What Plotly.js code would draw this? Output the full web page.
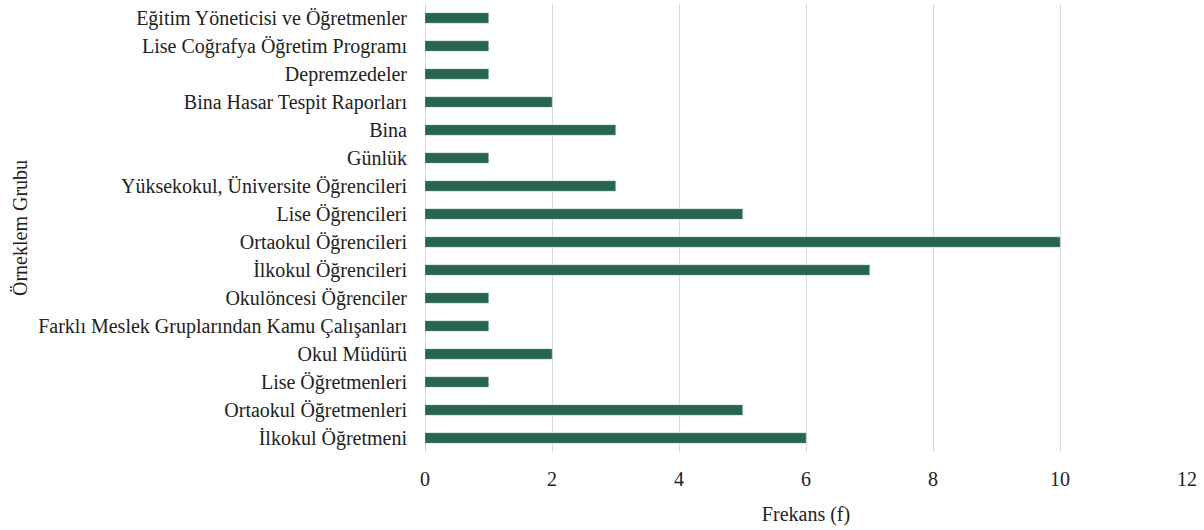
<!DOCTYPE html>
<html>
<head>
<meta charset="utf-8">
<script src="https://cdn.plot.ly/plotly-3.0.1.min.js"></script>
<style>html,body{margin:0;padding:0;background:#fff;}</style>
</head>
<body>
<div id="chart" style="width:1204px;height:530px;"></div>
<script>
const categories = [
  "Eğitim Yöneticisi ve Öğretmenler",
  "Lise Coğrafya Öğretim Programı",
  "Depremzedeler",
  "Bina Hasar Tespit Raporları",
  "Bina",
  "Günlük",
  "Yüksekokul, Üniversite Öğrencileri",
  "Lise Öğrencileri",
  "Ortaokul Öğrencileri",
  "İlkokul Öğrencileri",
  "Okulöncesi Öğrenciler",
  "Farklı Meslek Gruplarından Kamu Çalışanları",
  "Okul Müdürü",
  "Lise Öğretmenleri",
  "Ortaokul Öğretmenleri",
  "İlkokul Öğretmeni"
];
const frequencies = [1, 1, 1, 2, 3, 1, 3, 5, 10, 7, 1, 1, 2, 1, 5, 6];
const xTicks = [0, 2, 4, 6, 8, 10, 12];

const font = {family: "'Liberation Serif', 'Times New Roman', serif", size: 20, color: "#222"};

Plotly.newPlot("chart", [{
  type: "bar",
  orientation: "h",
  y: categories,
  x: frequencies,
  marker: {color: "#276452", line: {color: "#7FA89A", width: 0.5}},
  hoverinfo: "x+y"
}], {
  width: 1204, height: 530,
  margin: {l: 425, r: 17, t: 4, b: 78},
  paper_bgcolor: "#fff", plot_bgcolor: "#fff",
  font: font,
  bargap: 0.64,
  showlegend: false,
  xaxis: {
    range: [0, 12],
    tickvals: xTicks,
    showgrid: true, gridcolor: "#D9D9D9", gridwidth: 1,
    zeroline: true, zerolinecolor: "#D9D9D9", zerolinewidth: 1,
    showline: false,
    ticks: "", ticklabelstandoff: 13,
    tickfont: font,
    title: {text: "Frekans (f)", font: font, standoff: 17}
  },
  yaxis: {
    autorange: "reversed",
    type: "category",
    showgrid: false, showline: false, zeroline: false,
    ticks: "", ticklabelstandoff: 17,
    tickfont: font,
    title: {text: "Örneklem Grubu", font: font, standoff: 5}
  }
}, {displayModeBar: false, staticPlot: true});
</script>
</body>
</html>
